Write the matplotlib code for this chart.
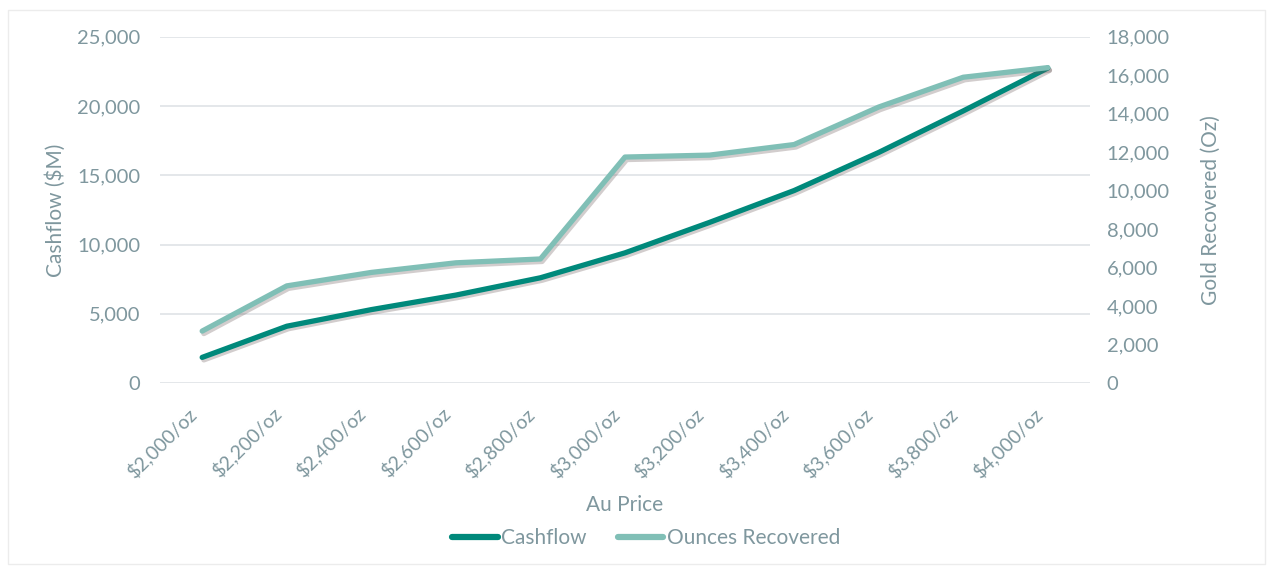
import matplotlib.pyplot as plt
import matplotlib.patheffects as pe
from matplotlib.patches import Rectangle
from matplotlib.ticker import FuncFormatter
from matplotlib.transforms import ScaledTranslation

prices = ['$2,000/oz', '$2,200/oz', '$2,400/oz', '$2,600/oz', '$2,800/oz', '$3,000/oz',
          '$3,200/oz', '$3,400/oz', '$3,600/oz', '$3,800/oz', '$4,000/oz']
cashflow = [1850, 4100, 5300, 6350, 7600, 9400, 11600, 13900, 16650, 19650, 22750]
ounces = [2700, 5050, 5750, 6250, 6450, 11750, 11850, 12400, 14350, 15900, 16400]

plt.rcParams['font.family'] = ['Lato', 'DejaVu Sans']
text_col = '#7f979e'
dark = '#00897b'
light = '#80bfb6'
grid_col = '#e2e5e8'

fig = plt.figure(figsize=(12.69, 5.67), dpi=100)
fig.patches.append(Rectangle((0.006, 0.005), 0.991, 0.978, transform=fig.transFigure,
                             fill=False, edgecolor='#ececec', linewidth=1))
ax = fig.add_axes([0.126, 0.3245, 0.733, 0.6105])
ax2 = ax.twinx()

x = list(range(len(prices)))
shadow = [pe.SimpleLineShadow(offset=(1.2, -1.8), shadow_color='#6b5a5a', alpha=0.3), pe.Normal()]
l1, = ax.plot(x, cashflow, color=dark, lw=3.8, solid_capstyle='round', solid_joinstyle='round',
              path_effects=shadow, label='Cashflow', zorder=3)
l2, = ax2.plot(x, ounces, color=light, lw=3.8, solid_capstyle='round', solid_joinstyle='round',
               path_effects=shadow, label='Ounces Recovered', zorder=3)

ax.set_xlim(-0.5, len(prices) - 0.5)
ax.set_ylim(0, 25000)
ax.set_yticks(range(0, 25001, 5000))
ax2.set_ylim(0, 18000)
ax2.set_yticks(range(0, 18001, 2000))
fmt = FuncFormatter(lambda v, p: f'{int(v):,}')
ax.yaxis.set_major_formatter(fmt)
ax2.yaxis.set_major_formatter(fmt)

ax.grid(axis='y', color=grid_col, lw=1.3)
ax.set_axisbelow(True)
for a in (ax, ax2):
    for s in a.spines.values():
        s.set_visible(False)
    a.tick_params(length=0, colors=text_col, labelsize=14.5)

ax.tick_params(axis='y', pad=14)
ax2.tick_params(axis='y', pad=12)
ax.set_xticks(x)
ax.set_xticklabels(prices, rotation=45, ha='right', va='center', rotation_mode='anchor', fontsize=14)
ax.tick_params(axis='x', pad=20)
shift = ScaledTranslation(-0.09, 0, fig.dpi_scale_trans)
for lab in ax.get_xticklabels():
    lab.set_transform(lab.get_transform() + shift)

ax.set_ylabel('Cashflow ($M)', color=text_col, fontsize=15, labelpad=8)
ax2.set_ylabel('Gold Recovered (Oz)', color=text_col, fontsize=15, labelpad=22)
ax.set_xlabel('Au Price', color=text_col, fontsize=15, labelpad=10)

leg = fig.legend([l1, l2], ['Cashflow', 'Ounces Recovered'], loc='center', bbox_to_anchor=(0.509, 0.051),
                 ncol=2, frameon=False, fontsize=15, handlelength=2.2, handletextpad=0.15,
                 columnspacing=1.5)
for t in leg.get_texts():
    t.set_color(text_col)
for h in leg.legend_handles:
    h.set_path_effects([])
    h.set_linewidth(4.5)

fig.savefig('out.png', dpi=100)
